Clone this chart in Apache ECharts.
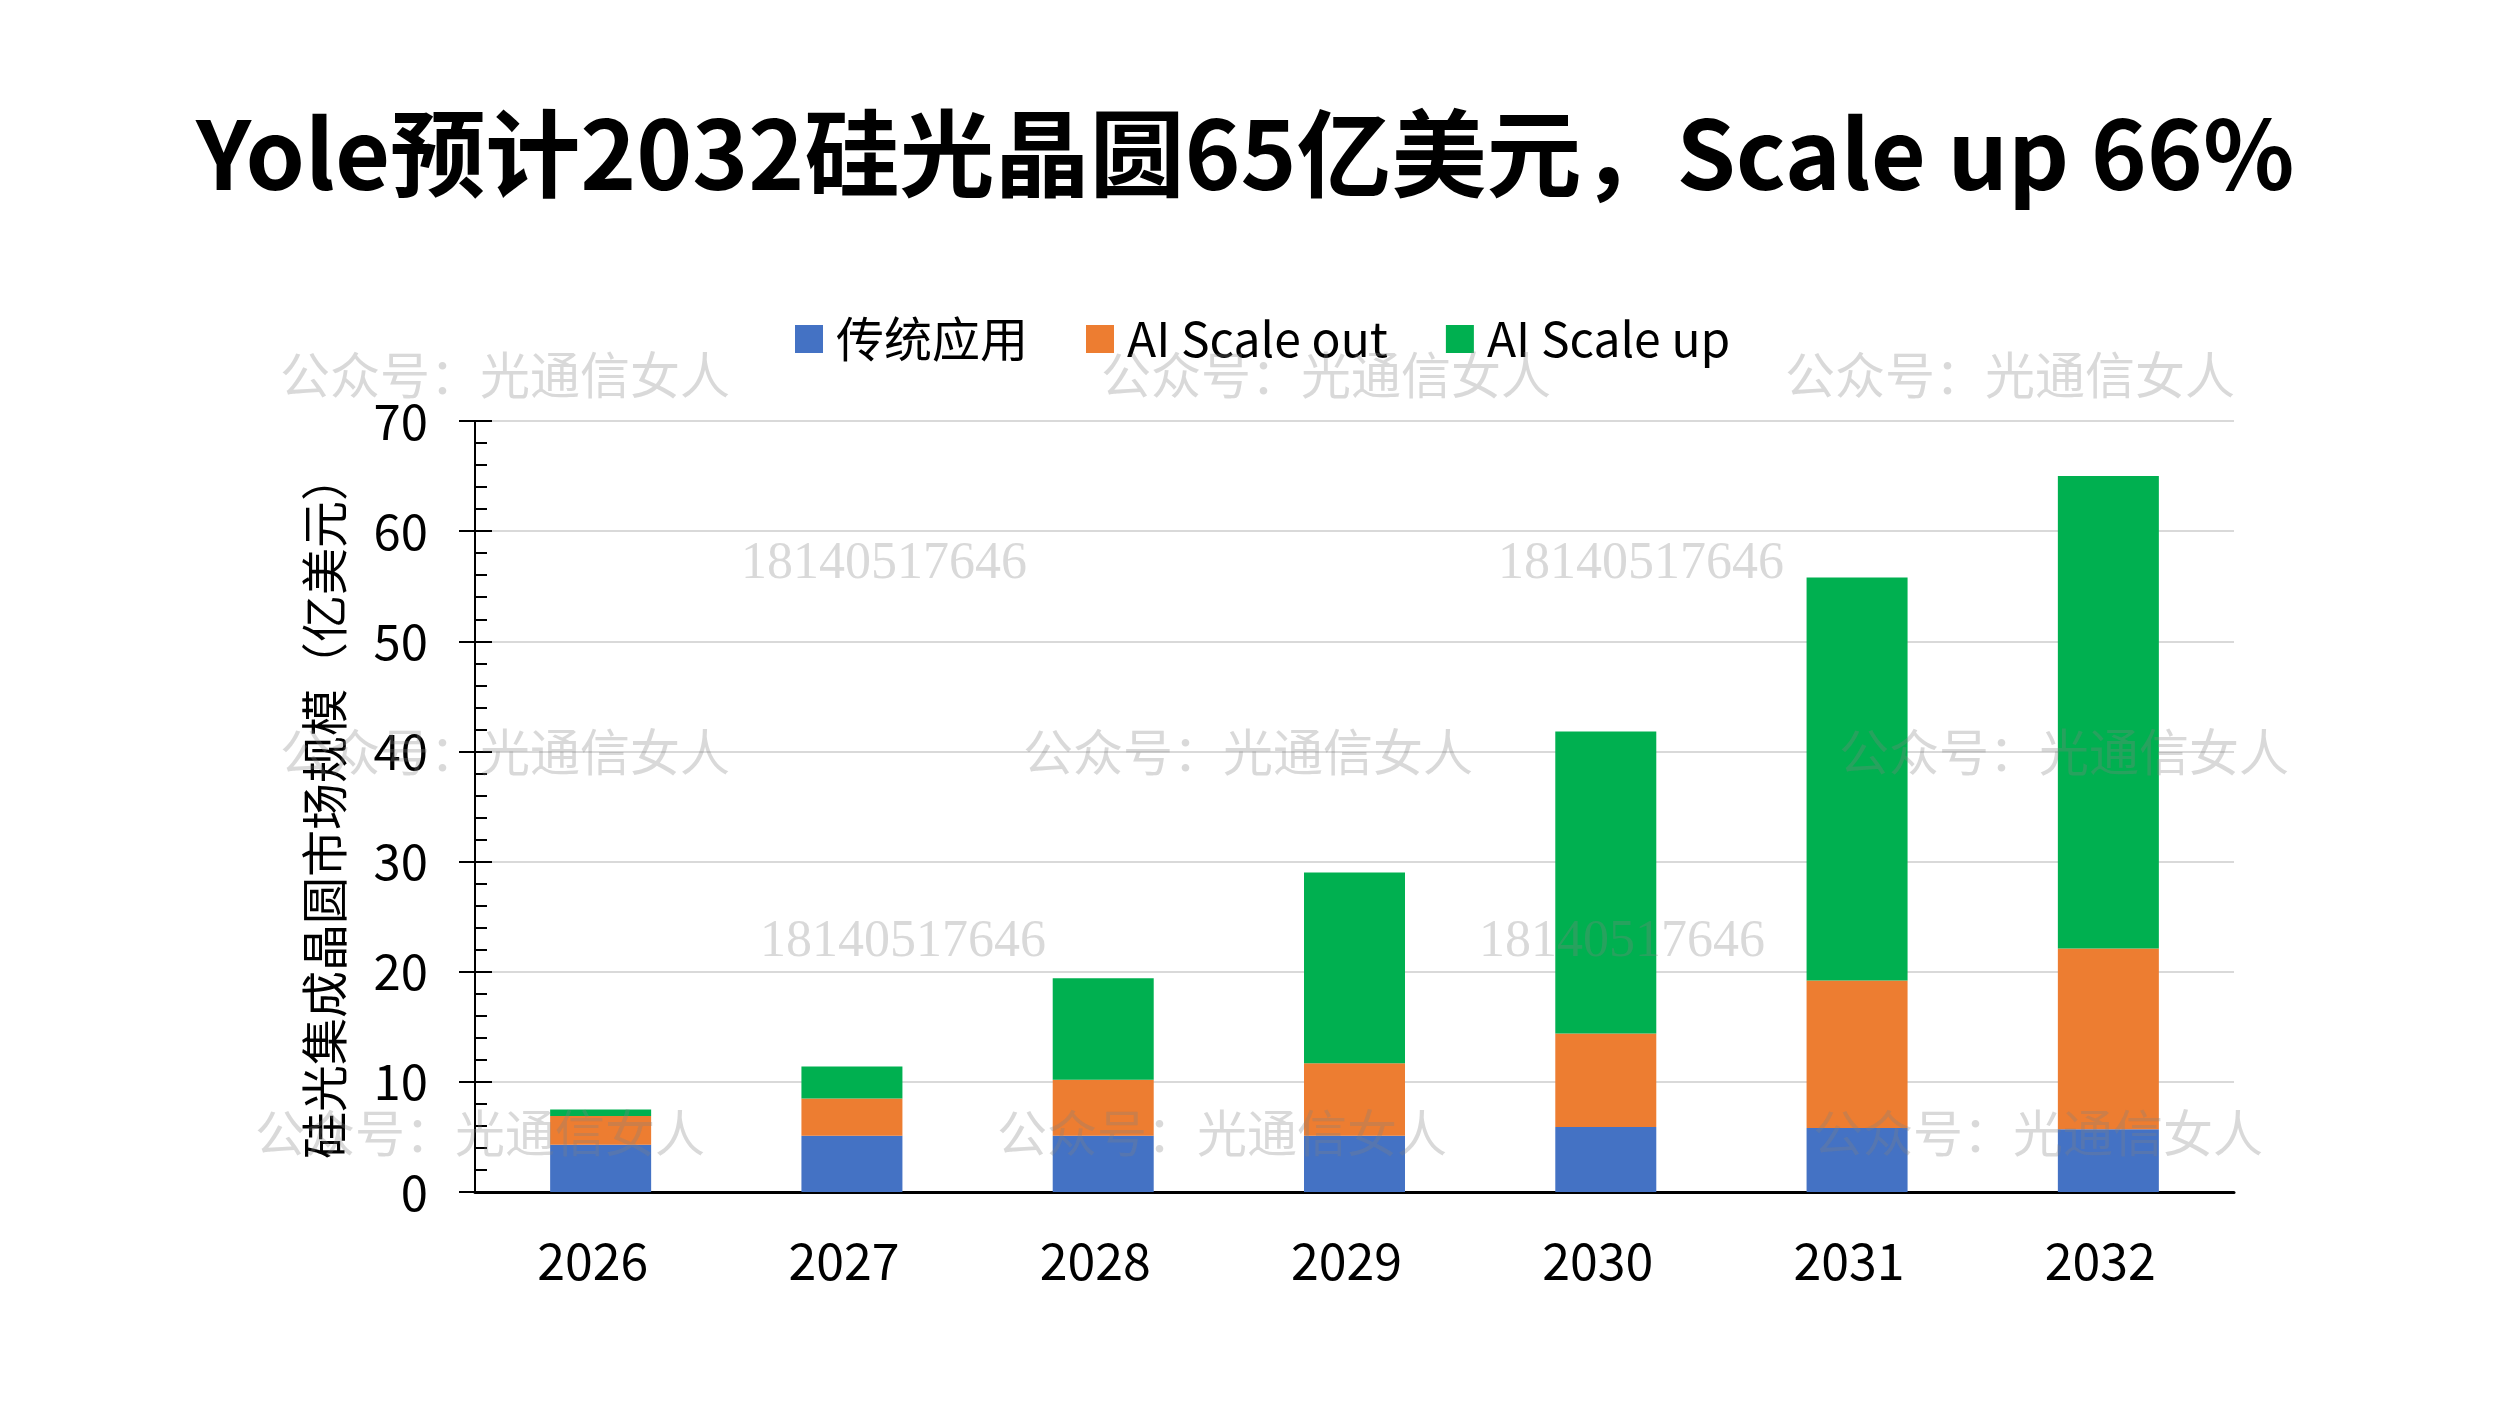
<!DOCTYPE html>
<html><head><meta charset="utf-8">
<script src="https://cdn.jsdelivr.net/npm/echarts@6/dist/echarts.min.js"></script>
<style>html,body{margin:0;padding:0;background:#fff}#c{width:2500px;height:1406px}</style>
</head><body><div id="c"></div>
<script>
const categories = ['2026','2027','2028','2029','2030','2031','2032'];
const traditional = [4.3, 5.1, 5.1, 5.1, 5.9, 5.8, 5.7];
const scaleOut = [2.6, 3.4, 5.1, 6.6, 8.5, 13.4, 16.4];
const scaleUp = [0.6, 2.9, 9.2, 17.3, 27.4, 36.6, 42.9];
const seriesNames = ['传统应用', 'AI Scale out', 'AI Scale up'];
const titleText = 'Yole预计2032硅光晶圆65亿美元，Scale up 66%';
const yAxisName = '硅光集成晶圆市场规模（亿美元）';
const watermarkA = '公众号：光通信女人';
const watermarkB = '18140517646';

const FONT = '"Noto Sans CJK SC","Noto Sans",sans-serif';
const chart = echarts.init(document.getElementById('c'), null, {renderer: 'canvas'});

const wmStyleA = {text: watermarkA, font: '50px "Noto Sans CJK SC", serif', fill: 'rgba(128,128,128,0.3)', textAlign: 'center', textVerticalAlign: 'middle'};
const wmStyleB = {text: watermarkB, font: '52px "Liberation Serif", serif', fill: 'rgba(128,128,128,0.3)', textAlign: 'center', textVerticalAlign: 'middle'};
const wmA = [[505,375],[1326,375],[2010,375],[505,752],[1248,752],[2064,752],[480,1133],[1222,1133],[2038,1133]];
const wmB = [[884,564],[1641,564],[903,942],[1622,942]];
const graphics = [];
wmA.forEach(p => graphics.push({type:'text', x:p[0], y:p[1], z:100, silent:true, style:Object.assign({}, wmStyleA)}));
wmB.forEach(p => graphics.push({type:'text', x:p[0], y:p[1], z:100, silent:true, style:Object.assign({}, wmStyleB)}));

const colors = ['#4472C4', '#ED7D31', '#00B050'];
const dataSets = [traditional, scaleOut, scaleUp];

chart.setOption({
  animation: false,
  backgroundColor: '#ffffff',
  title: {
    text: titleText, left: 191, top: 101,
    textStyle: {fontSize: 95, fontWeight: 'bold', color: '#000', fontFamily: FONT}
  },
  legend: {
    left: 790, top: 310, itemWidth: 28, itemHeight: 28, itemGap: 58, icon: 'rect',
    data: seriesNames,
    textStyle: {fontSize: 48, color: '#000', fontFamily: FONT, padding: [0,0,0,8]}
  },
  grid: {left: 475, right: 266, top: 421, bottom: 214, containLabel: false},
  xAxis: {
    type: 'category', data: categories,
    axisLine: {lineStyle: {color: '#000', width: 3}},
    axisTick: {show: false},
    axisLabel: {fontSize: 50, color: '#000', fontFamily: FONT, margin: 44, padding: [0,16,0,0]}
  },
  yAxis: [{
    type: 'value', min: 0, max: 70, interval: 10,
    name: yAxisName, nameLocation: 'middle', nameRotate: 90, nameGap: 127,
    nameTextStyle: {fontSize: 47, color: '#000', fontFamily: FONT},
    axisLine: {show: true, lineStyle: {color: '#000', width: 2}},
    axisTick: {show: true, inside: false, length: 16, lineStyle: {color: '#000', width: 2}},
    axisLabel: {fontSize: 49, color: '#000', fontFamily: FONT, margin: 47},
    splitLine: {show: true, lineStyle: {color: '#d9d9d9', width: 2}}
  }, {
    type: 'value', min: 0, max: 70, interval: 10, position: 'left',
    axisLine: {show: true, lineStyle: {color: '#000', width: 2}},
    axisTick: {show: true, inside: true, length: 17, lineStyle: {color: '#000', width: 2}},
    minorTick: {show: true, splitNumber: 5, length: 12, lineStyle: {color: '#000', width: 2}},
    axisLabel: {show: false},
    splitLine: {show: false}
  }],
  series: dataSets.map((d, i) => ({
    name: seriesNames[i], type: 'bar', stack: 'total', data: d,
    barWidth: 101, yAxisIndex: 0,
    itemStyle: {color: colors[i]}
  })),
  graphic: graphics
});
</script></body></html>
